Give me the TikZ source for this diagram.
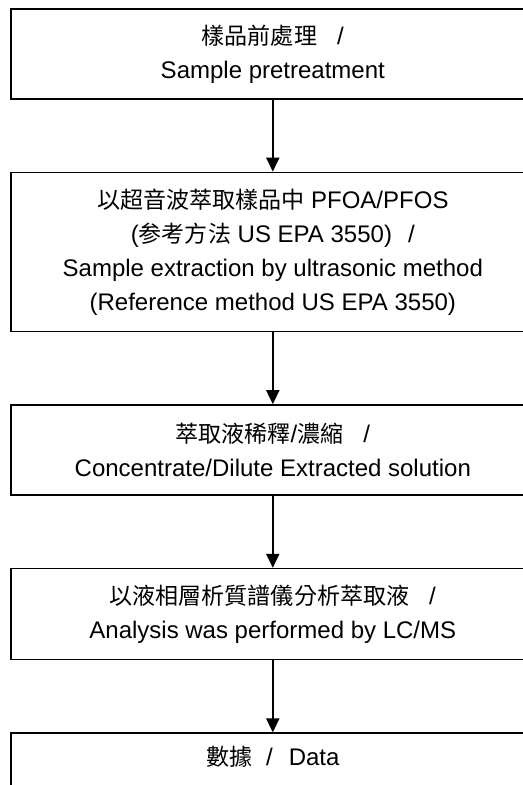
\documentclass[tikz,border=0pt]{standalone}
\usepackage{fontspec}
\setmainfont{Liberation Sans}
\newfontfamily\cjk{Noto Sans CJK TC}[Scale=0.96]
\newcommand{\zh}[1]{{\cjk #1}}
\usetikzlibrary{positioning,arrows.meta}

\begin{document}
\begin{tikzpicture}[x=1pt, y=1pt, node distance=36pt,
  stage/.style={draw, line width=0.8pt, minimum width=262pt, inner sep=0pt, align=center, font=\fontsize{12}{17}\selectfont},
  flow/.style={-{Triangle[length=7pt,width=6.5pt]}, line width=1pt}]
	\useasboundingbox (0,0) rectangle (261.5,-392.5);

	\node[stage, minimum height=45pt, anchor=north west] (pre) at (5,-4) {\zh{樣品前處理}\hspace{10pt}/\\Sample pretreatment};
	\node[stage, minimum height=79.5pt, below=of pre] (ext) {\zh{以超音波萃取樣品中} PFOA/PFOS\\(\zh{参考方法} US EPA 3550)\hspace{8pt}/\\Sample extraction by ultrasonic method\\(Reference method US EPA 3550)};
	\node[stage, minimum height=45pt, below=of ext] (dil) {\zh{萃取液稀釋}/\zh{濃縮}\hspace{10pt}/\\Concentrate/Dilute Extracted solution};
	\node[stage, minimum height=45.5pt, below=of dil] (lcms) {\zh{以液相層析質譜儀分析萃取液}\hspace{10pt}/\\Analysis was performed by LC/MS};
	\node[stage, minimum height=45pt, below=of lcms] (data) {\zh{數據}\hspace{7pt}/\hspace{8pt}Data\\\strut};

	\draw[flow] (pre) -- (ext);
	\draw[flow] (ext) -- (dil);
	\draw[flow] (dil) -- (lcms);
	\draw[flow] (lcms) -- (data);
\end{tikzpicture}
\end{document}
